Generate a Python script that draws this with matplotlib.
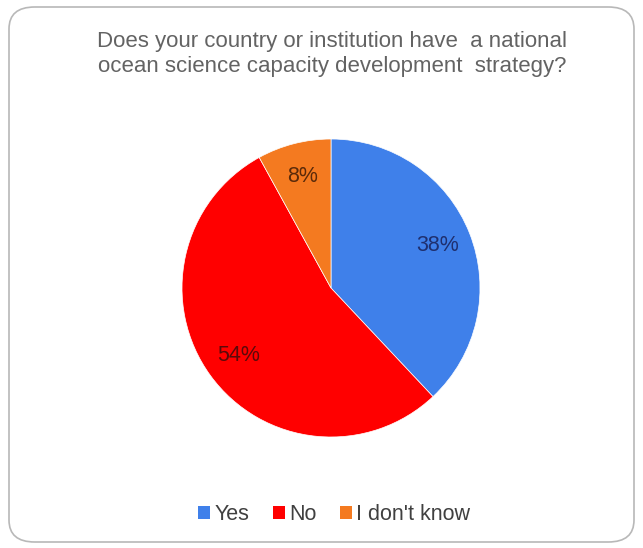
import matplotlib
matplotlib.use("Agg")
import matplotlib.pyplot as plt
from matplotlib.patches import FancyBboxPatch, Patch

# Survey answers
categories = ["Yes", "No", "I don't know"]
shares = [38, 54, 8]
colors = ["#3f80ea", "#ff0000", "#f47a20"]
label_colors = ["#1f2f6e", "#5a0a0a", "#5a2a0a"]
title = "Does your country or institution have  a national\nocean science capacity development  strategy?"

W, H = 643, 548
fig = plt.figure(figsize=(W / 100, H / 100), dpi=100)
fig.patch.set_facecolor("white")

# Rounded frame around the whole chart
frame = FancyBboxPatch((9 / W, 6 / H), (W - 18) / W, (H - 13) / H,
                       boxstyle="round,pad=0,rounding_size=0.04",
                       transform=fig.transFigure, facecolor="white",
                       edgecolor="#b8b8b8", linewidth=1.2, zorder=-5)
fig.patches.append(frame)

fig.text(332 / W, 1 - 54 / H, title, ha="center", va="center",
         fontsize=16, color="#636363", family="Liberation Sans",
         linespacing=1.22)

# Pie area
cx, cy, r = 331, 288, 149
ax = fig.add_axes([(cx - r) / W, (H - cy - r) / H, 2 * r / W, 2 * r / H])
ax.set_zorder(2)
wedges, texts, autotexts = ax.pie(
    shares, colors=colors, startangle=90, counterclock=False,
    autopct=lambda p: f"{p:.0f}%", pctdistance=0.77, radius=1,
    wedgeprops=dict(linewidth=0.5, edgecolor="white"),
    textprops=dict(fontsize=15.5, family="Liberation Sans"))
for t, c in zip(autotexts, label_colors):
    t.set_color(c)
ax.set_xlim(-1, 1)
ax.set_ylim(-1, 1)
ax.set_aspect("equal")
ax.axis("off")

handles = [Patch(facecolor=c, edgecolor="none") for c in colors]
fig.legend(handles, categories, loc="center", bbox_to_anchor=(334 / W, 1 - 515 / H),
           ncol=3, frameon=False, handlelength=0.55, handleheight=0.55,
           handletextpad=0.2, columnspacing=1.1,
           prop=dict(family="Liberation Sans", size=15.5), labelcolor="#404040")

fig.savefig("out.png", dpi=100)
